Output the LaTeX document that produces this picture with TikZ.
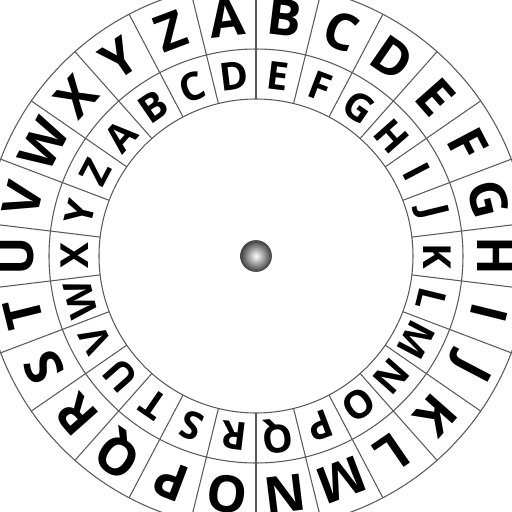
\documentclass[tikz,border=0pt]{standalone}
\usepackage{fontspec}
\setmainfont{Open Sans}
\begin{document}
\begin{tikzpicture}[
    ring/.style={draw=black!65, line width=0.6pt},
    outerletter/.style={font=\fontsize{29}{29}\selectfont\bfseries, inner sep=0pt},
    innerletter/.style={font=\fontsize{22}{22}\selectfont\bfseries, inner sep=0pt},
    hubball/.style={circle, minimum size=0.62cm, inner sep=0pt, draw=black!70,
                    inner color=white, outer color=black!75}
  ]
  % Rahmen
  \useasboundingbox (-5.12,-5.12) rectangle (5.12,5.12);
  \clip (-5.12,-5.12) rectangle (5.12,5.12);

  % Kreise
  \draw[ring] (0,0) circle (3.14);
  \draw[ring] (0,0) circle (4.14);
  \draw[ring] (0,0) circle (5.46);

  % Trennlinien
  \foreach \k in {0,...,25}
    \draw[ring] (90-\k*360/26:3.14) -- (90-\k*360/26:5.46);

  % Aeusserer Ring: Klartext
  \foreach \l [count=\i from 0, evaluate=\i as \a using 90+180/26-\i*360/26] in {A,...,Z}
    \node[outerletter, rotate=\a-90] (out-\l) at (\a:4.80) {\l};

  % Innerer Ring: um 3 verschoben
  \foreach \l [count=\i from 0, evaluate=\i as \a using 90+180/26-(\i-3)*360/26] in {A,...,Z}
    \node[innerletter, rotate=\a-90] (in-\l) at (\a:3.62) {\l};

  % Achse
  \node[hubball] (hub) at (0,0) {};
\end{tikzpicture}
\end{document}
